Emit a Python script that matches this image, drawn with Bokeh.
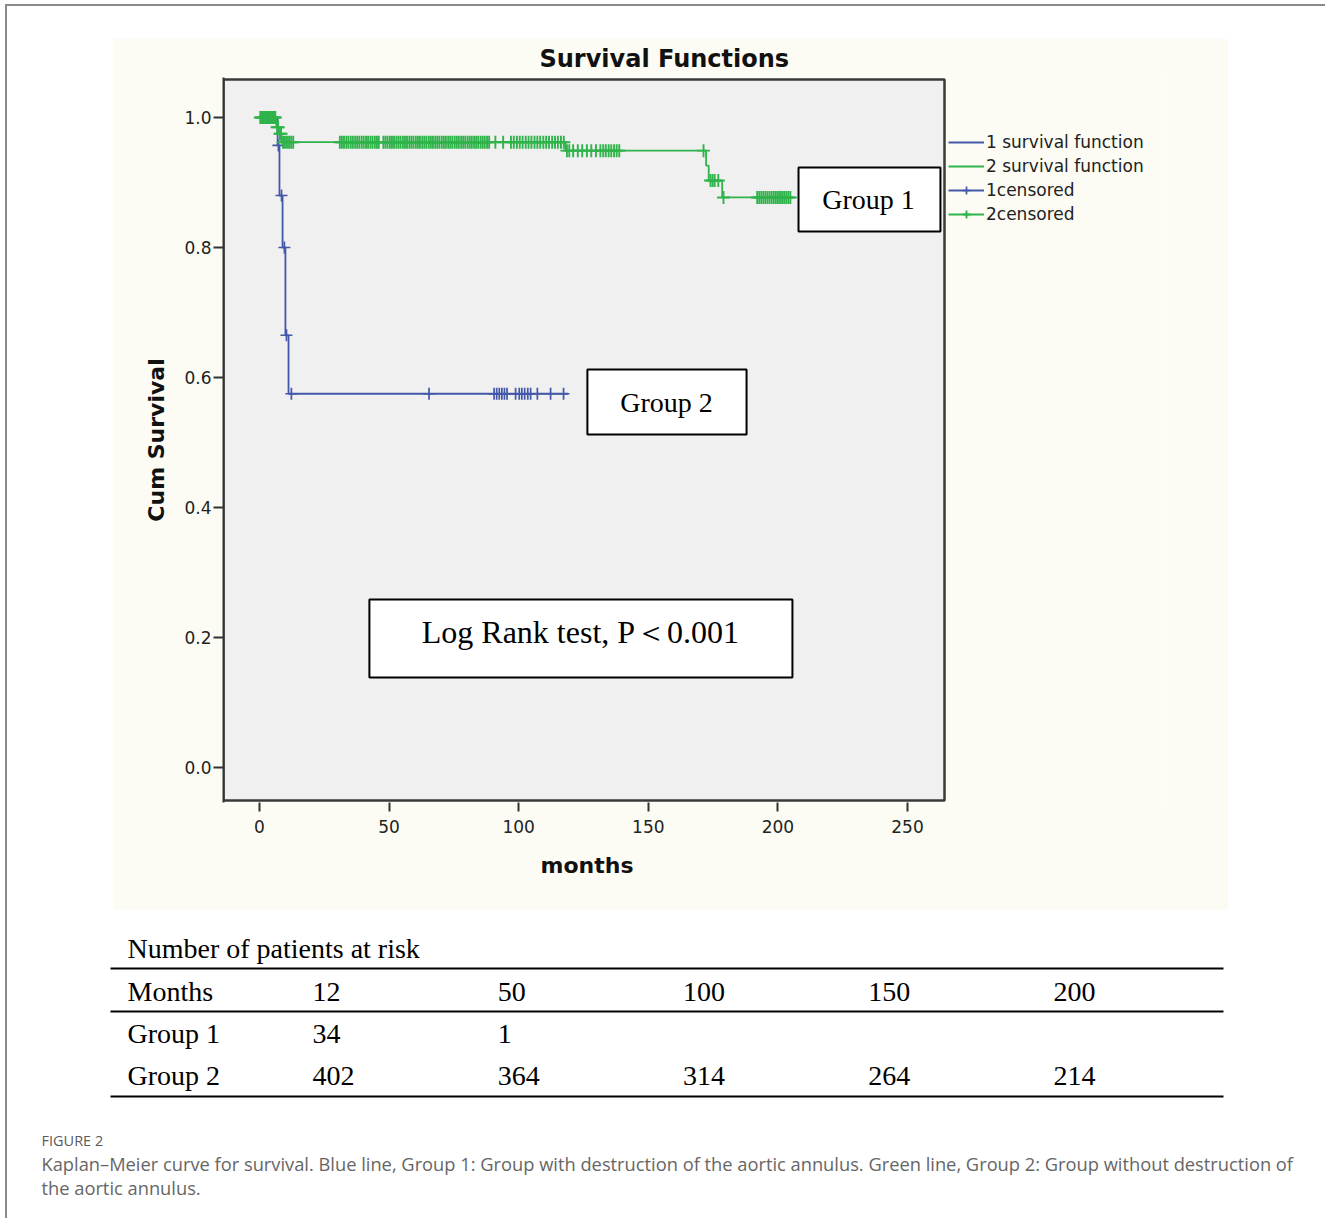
import numpy as np
from bokeh.plotting import figure
from bokeh.models import (Range1d, FixedTicker, PrintfTickFormatter, Legend, LegendItem,
                          Label, BoxAnnotation, ColumnDataSource, Title)
from bokeh.layouts import column, row
from bokeh.core.properties import value
from bokeh.embed import file_html
from bokeh.resources import INLINE

# ---------------- data ----------------
# Group 1 (blue) Kaplan-Meier steps
g1_time = [0, 7.0, 7.7, 8.9, 10.0, 11.2, 119.0]
g1_surv = [1.0, 0.957, 0.88, 0.80, 0.665, 0.575, 0.575]
g1_cens = [7.3, 8.5, 9.6, 10.4, 12.3, 65.4, 90.5, 91.5, 92.5, 93.5, 94.5, 95.5,
           98.8, 100.2, 101.2, 102.3, 103.5, 104.6, 107.2, 112.3, 117.3]

# Group 2 (green) Kaplan-Meier steps
g2_time = [0, 6.5, 7.5, 8.5, 118.0, 172.3, 173.3, 178.5, 206.0]
g2_surv = [1.0, 0.985, 0.975, 0.962, 0.949, 0.926, 0.903, 0.877, 0.877]
g2_cens = [0.3, 0.8, 1.2, 1.7, 2.1, 2.6, 3.0, 3.4, 3.9, 4.3, 4.8, 5.2, 5.7, 6.1,
           6.8, 7.2, 7.9, 8.3,
           9.1, 9.8, 10.6, 11.4, 12.2, 13.0,
           31.0, 31.8, 32.6, 33.5, 34.3, 35.2, 36.0, 36.9, 37.7, 38.5, 39.4, 40.2,
           41.1, 41.9, 42.8, 43.6, 44.5, 45.3, 46.0,
           47.8, 48.6, 49.4, 50.3, 51.1, 51.9, 52.8, 53.6, 54.4, 55.3, 56.1, 56.9,
           57.8, 58.6, 59.4, 60.3, 61.1, 61.9, 62.8, 63.6, 64.4, 65.3, 66.1, 66.9,
           67.8, 68.6, 69.4, 70.3, 71.1, 71.9, 72.8, 73.6, 74.4, 75.3, 76.1, 76.9,
           77.8, 78.6, 79.4, 80.3, 81.1, 81.9, 82.8, 83.6, 84.4, 85.3, 86.1, 86.9,
           87.8, 88.6,
           91.0, 94.0, 97.0, 98.1, 99.3, 100.4, 101.5, 102.7, 103.8, 104.9, 106.1,
           107.2, 108.3, 109.5, 110.6, 111.7, 112.9, 114.0, 115.1, 116.3, 117.4,
           118.6, 119.5, 121.0, 122.8, 124.5, 126.3, 128.0, 129.8, 131.5, 132.6,
           133.6, 134.7, 135.7, 136.8, 137.8, 138.8,
           171.3,
           174.0, 174.8, 175.6, 177.0,
           179.0, 192.0, 192.8, 193.6, 194.4, 195.2, 196.0, 196.8, 197.6, 198.4,
           199.2, 200.0, 200.8, 201.6, 202.4, 203.2, 204.0, 204.8]

x_ticks = [0, 50, 100, 150, 200, 250]
y_ticks = [0.0, 0.2, 0.4, 0.6, 0.8, 1.0]
legend_labels = ["1 survival function", "2 survival function", "1censored", "2censored"]
group_labels = ["Group 1", "Group 2"]
test_label = "Log Rank test, P\uff1c0.001"

# at-risk table
risk_title = "Number of patients at risk"
risk_months = [12, 50, 100, 150, 200]
risk_group1 = [34, 1]
risk_group2 = [402, 364, 314, 264, 214]

caption_head = "FIGURE 2"
caption_lines = [
    "Kaplan\u2013Meier curve for survival. Blue line, Group 1: Group with destruction of the aortic annulus. Green line, Group 2: Group without destruction of",
    "the aortic annulus.",
]

BLUE = "#4358a8"
GREEN = "#2fb34a"
CREAM = "#fcfcf4"

# plotted area (month / survival extents of the grey box)
X_LO, X_HI = -13.89, 264.27
Y_LO, Y_HI = -0.0508, 1.0585


def level_at(times, survs, t):
    idx = np.searchsorted(np.asarray(times), np.asarray(t), side="right") - 1
    return list(np.asarray(survs)[idx])


# ---------------- KM chart ----------------
# the frame is widened to the right so the legend can sit beside the grey box
p = figure(width=1115, height=872,
           x_range=Range1d(X_LO, 347.6), y_range=Range1d(-0.05385, 1.06154),
           output_backend="svg", toolbar_location=None,
           min_border_left=110, min_border_right=68, min_border_top=39, min_border_bottom=108,
           background_fill_color=CREAM, border_fill_color=CREAM,
           outline_line_color=None, margin=(32, 0, 0, 106))
p.grid.visible = False

p.add_layout(BoxAnnotation(left=X_LO, right=X_HI, bottom=Y_LO, top=Y_HI,
                           fill_color="#f0f0f0", fill_alpha=1.0,
                           line_color="#3a3a3a", line_alpha=1.0, line_width=2.5,
                           level="underlay"))

p.title.text = "Survival Functions"
p.title.align = "left"
p.title.offset = 316
p.title.text_font = "DejaVu Sans"
p.title.text_font_style = "bold"
p.title.text_font_size = "24px"
p.title.text_color = "#111111"
p.title.standoff = 9

for ax in (p.xaxis[0], p.yaxis[0]):
    ax.axis_line_color = "#333333"
    ax.axis_line_width = 2
    ax.major_tick_line_color = "#333333"
    ax.major_tick_line_width = 2
    ax.major_tick_in = 0
    ax.major_tick_out = 10
    ax.minor_tick_line_color = None
    ax.major_label_text_font = "DejaVu Sans"
    ax.major_label_text_font_size = "17px"
    ax.major_label_text_color = "#222222"
    ax.axis_label_text_font = "DejaVu Sans"
    ax.axis_label_text_font_style = "bold"
    ax.axis_label_text_font_size = "22px"
    ax.axis_label_text_color = "#111111"

p.xaxis.axis_line_color = None
p.xaxis.major_tick_out = 9
p.xaxis.ticker = FixedTicker(ticks=x_ticks)
p.yaxis.ticker = FixedTicker(ticks=y_ticks)
p.yaxis.formatter = PrintfTickFormatter(format="%.1f")
p.yaxis.axis_label = "Cum Survival"
p.xaxis.major_label_standoff = 8
p.yaxis.major_label_standoff = 2
p.yaxis.axis_label_standoff = 12

p.add_layout(Title(text="months", align="left", offset=317, text_font="DejaVu Sans",
                   text_font_style="bold", text_font_size="22px", text_color="#111111",
                   standoff=30), "below")

src1 = ColumnDataSource(dict(t=g1_time, s=g1_surv))
src2 = ColumnDataSource(dict(t=g2_time, s=g2_surv))
c1 = ColumnDataSource(dict(t=g1_cens, s=level_at(g1_time, g1_surv, g1_cens)))
c2 = ColumnDataSource(dict(t=g2_cens, s=level_at(g2_time, g2_surv, g2_cens)))

r1 = p.step(x="t", y="s", source=src1, mode="after", line_color=BLUE, line_width=1.8)
rc1 = p.scatter(x="t", y="s", source=c1, marker="cross", size=12, line_color=BLUE, line_width=1.7)
r2 = p.step(x="t", y="s", source=src2, mode="after", line_color=GREEN, line_width=1.8)
rc2 = p.scatter(x="t", y="s", source=c2, marker="cross", size=13, line_color=GREEN, line_width=1.9)

legend = Legend(items=[LegendItem(label=legend_labels[0], renderers=[r1]),
                       LegendItem(label=legend_labels[1], renderers=[r2]),
                       LegendItem(label=legend_labels[2], renderers=[r1, rc1]),
                       LegendItem(label=legend_labels[3], renderers=[r2, rc2])],
                location=(723, 576), padding=2, margin=0, spacing=4,
                glyph_width=36, glyph_height=20, label_height=20, label_standoff=2,
                label_text_font="DejaVu Sans", label_text_font_size="17px",
                label_text_color="#222222",
                background_fill_alpha=0, border_line_alpha=0)
p.add_layout(legend, "center")

# annotation boxes (data coordinates of the frame)
boxes = [
    (207.95, 262.7, 0.923, 0.8246, 234.95, 0.8738, group_labels[0], "28px"),
    (126.5, 187.9, 0.6123, 0.5123, 157.0, 0.5615, group_labels[1], "28px"),
    (42.4, 205.6, 0.2585, 0.1385, 123.8, 0.2077, test_label, "32px"),
]
for (l, r, t, b, tx, ty, txt, fs) in boxes:
    p.add_layout(BoxAnnotation(left=l, right=r, top=t, bottom=b, fill_color="white",
                               fill_alpha=1.0, line_color="black", line_alpha=1.0,
                               line_width=2))
    p.add_layout(Label(x=tx, y=ty, text=txt, text_align="center", text_baseline="middle",
                       text_font="Liberation Serif", text_font_size=fs, text_color="black"))

# ---------------- at-risk table + caption ----------------
q = figure(width=1318, height=308, x_range=Range1d(7, 1325), y_range=Range1d(1218, 910),
           output_backend="svg", toolbar_location=None, x_axis_type=None, y_axis_type=None,
           min_border=0, min_border_left=0, min_border_right=0, min_border_top=0,
           min_border_bottom=0, background_fill_color="white", border_fill_color="white",
           outline_line_color=None, margin=0)
q.grid.visible = False

serif = value("Liberation Serif")
q.text(x=[127], y=[948], text=[risk_title], text_font=serif, text_font_size="28px",
       text_align="left", text_baseline="middle", text_color="black")
q.segment(x0=[110, 110, 110], y0=[968, 1011, 1096], x1=[1223, 1223, 1223], y1=[968, 1011, 1096],
          line_color="black", line_width=2)
q.text(x=[127, 127, 127], y=[991, 1033, 1075], text=["Months", "Group 1", "Group 2"],
       text_font=serif, text_font_size="28px", text_align="left", text_baseline="middle",
       text_color="black")
col_x = [312 + 185.25 * i for i in range(len(risk_months))]
q.text(x=col_x, y=[991] * len(risk_months), text=[str(v) for v in risk_months],
       text_font=serif, text_font_size="28px", text_align="left", text_baseline="middle")
q.text(x=col_x[:len(risk_group1)], y=[1033] * len(risk_group1), text=[str(v) for v in risk_group1],
       text_font=serif, text_font_size="28px", text_align="left", text_baseline="middle")
q.text(x=col_x[:len(risk_group2)], y=[1075] * len(risk_group2), text=[str(v) for v in risk_group2],
       text_font=serif, text_font_size="28px", text_align="left", text_baseline="middle")

q.text(x=[41], y=[1140], text=[caption_head], text_font=value("Open Sans"), text_font_size="14.5px",
       text_align="left", text_baseline="middle", text_color="#5a5a5a")
q.text(x=[41, 41], y=[1163, 1187], text=caption_lines, text_font=value("Open Sans"),
       text_font_size="18.3px", text_align="left", text_baseline="middle", text_color="#666666")

page = column(row(p), q, margin=(4, 0, 0, 5),
              styles={"border-top": "2px solid #8a8a8a", "border-left": "2px solid #8a8a8a"})

open("out.html", "w").write(file_html(page, INLINE))
